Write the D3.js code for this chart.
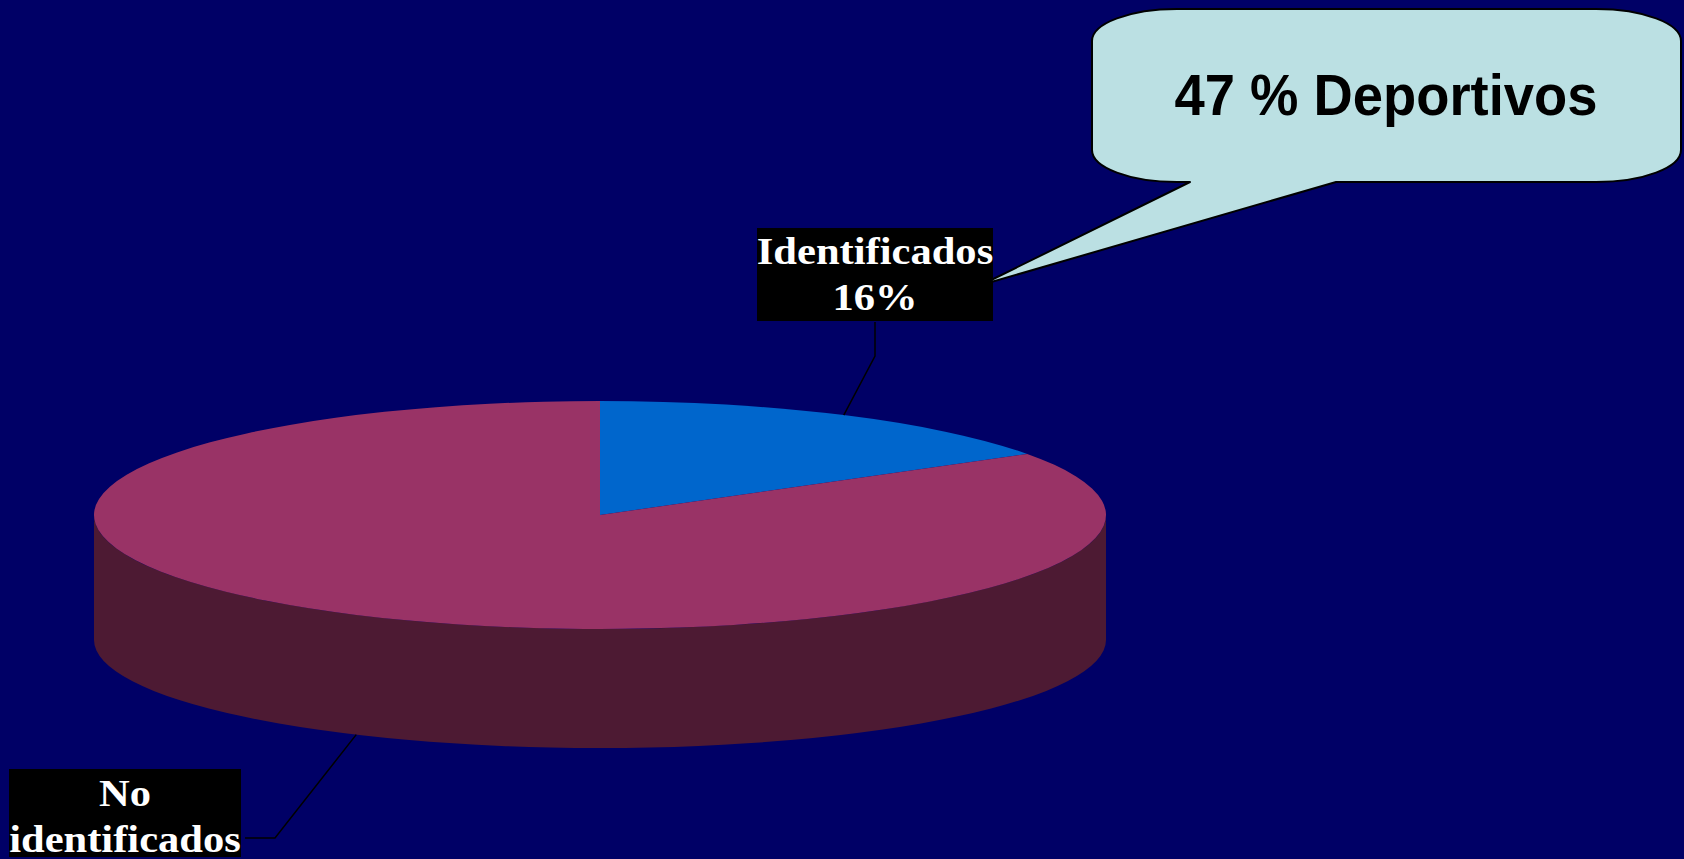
<!DOCTYPE html>
<html>
<head>
<meta charset="utf-8">
<script src="https://cdn.jsdelivr.net/npm/d3@7"></script>
<style>
  html, body { margin: 0; padding: 0; background: #000066; overflow: hidden; }
  svg { display: block; }
</style>
</head>
<body>
<svg id="chart"></svg>
<script>
// data
const categories = ["Identificados", "No identificados"];
const percentages = [16, 84];
const labelLines = [["Identificados", "16%"], ["No", "identificados"]];
const sliceColors = ["#0066cc", "#993366"];
const sideColors = ["#00337a", "#4d1a33"];
const calloutText = "47 % Deportivos";

const width = 1684, height = 859;
const svg = d3.select("#chart").attr("width", width).attr("height", height);

svg.append("rect").attr("width", width).attr("height", height).attr("fill", "#000066");

// 3d pie geometry
const cx = 600, cy = 515, rx = 506, ry = 114;
const cyBottom = 640, ryBottom = 108;

const topPt = a => [cx + rx * Math.sin(a), cy - ry * Math.cos(a)];
const bottomPt = a => [cx + rx * Math.sin(a), cyBottom - ryBottom * Math.cos(a)];

const pie = d3.pie().sort(null).value(d => d.value);
const arcs = pie(categories.map((c, i) => ({ name: c, value: percentages[i], i })));

function topPath(d) {
  const p0 = topPt(d.startAngle), p1 = topPt(d.endAngle);
  const large = d.endAngle - d.startAngle > Math.PI ? 1 : 0;
  return `M${cx},${cy}L${p0}A${rx},${ry} 0 ${large} 1 ${p1}Z`;
}

function sidePath(d) {
  // only the front half of the rim is visible
  const s = Math.max(d.startAngle, Math.PI / 2);
  const e = Math.min(d.endAngle, Math.PI * 3 / 2);
  if (e <= s) return null;
  const t0 = topPt(s), t1 = topPt(e), b0 = bottomPt(s), b1 = bottomPt(e);
  return `M${t0}A${rx},${ry} 0 0 1 ${t1}L${b1}A${rx},${ryBottom} 0 0 0 ${b0}Z`;
}

const g = svg.append("g");

g.selectAll("path.side")
  .data(arcs.filter(d => sidePath(d)))
  .join("path")
  .attr("class", "side")
  .attr("d", sidePath)
  .attr("fill", d => sideColors[d.data.i]);

g.selectAll("path.top")
  .data(arcs)
  .join("path")
  .attr("class", "top")
  .attr("d", topPath)
  .attr("fill", d => sliceColors[d.data.i]);

// data labels with leader lines
const labelLayout = [
  { box: [757, 228, 236, 93], base: [264, 310], elbow: [875, 356], end: [875, 322], rim: "top" },
  { box: [9, 769, 232, 88], base: [806, 852], elbow: [275, 838], end: [245, 838], rim: "bottom" }
];

arcs.forEach((d, i) => {
  const L = labelLayout[i];
  const mid = (d.startAngle + d.endAngle) / 2;
  const anchor = L.rim === "top" ? topPt(mid) : bottomPt(mid);

  svg.append("polyline")
    .attr("points", [anchor, L.elbow, L.end].map(p => p.join(",")).join(" "))
    .attr("fill", "none")
    .attr("stroke", "#000")
    .attr("stroke-width", 1.5);

  svg.append("rect")
    .attr("x", L.box[0]).attr("y", L.box[1])
    .attr("width", L.box[2]).attr("height", L.box[3])
    .attr("fill", "#000");

  const midX = L.box[0] + L.box[2] / 2;
  labelLines[i].forEach((t, j) => {
    svg.append("text")
      .attr("transform", `translate(${midX},${L.base[j]}) scale(1.12,1)`)
      .attr("text-anchor", "middle")
      .attr("font-family", "'Liberation Serif', 'Times New Roman', serif")
      .attr("font-weight", "bold")
      .attr("font-size", 38)
      .attr("fill", "#fff")
      .text(t);
  });
});

// callout bubble
const bL = 1092, bT = 9, bR = 1681, bB = 182, crx = 85, cry = 32;
const tail = { a: 1190, b: 1336, tip: [981, 285] };
const bubble = `M${bL + crx},${bT}H${bR - crx}A${crx},${cry} 0 0 1 ${bR},${bT + cry}` +
  `V${bB - cry}A${crx},${cry} 0 0 1 ${bR - crx},${bB}H${tail.b}L${tail.tip}L${tail.a},${bB}` +
  `H${bL + crx}A${crx},${cry} 0 0 1 ${bL},${bB - cry}V${bT + cry}A${crx},${cry} 0 0 1 ${bL + crx},${bT}Z`;

svg.append("path")
  .attr("d", bubble)
  .attr("fill", "#bbe0e3")
  .attr("stroke", "#000")
  .attr("stroke-width", 2)
  .attr("stroke-linejoin", "round");

svg.append("text")
  .attr("x", 1386).attr("y", 115)
  .attr("text-anchor", "middle")
  .attr("font-family", "'Comic Sans MS', 'Liberation Sans', Arial, sans-serif")
  .attr("font-weight", "bold")
  .attr("font-size", 58)
  .attr("textLength", 423)
  .attr("lengthAdjust", "spacingAndGlyphs")
  .attr("fill", "#000")
  .text(calloutText);
</script>
</body>
</html>
